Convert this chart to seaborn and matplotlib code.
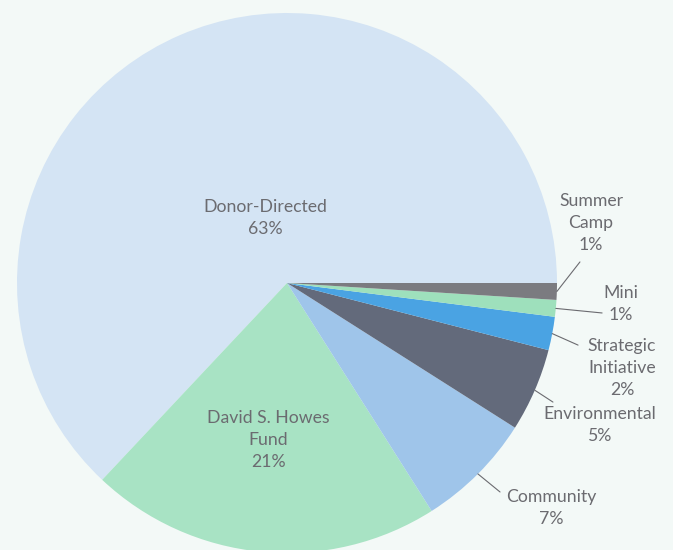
import numpy as np
import matplotlib
matplotlib.use("Agg")
import matplotlib.pyplot as plt
import seaborn as sns

# Data
categories = ["Donor-Directed", "David S. Howes\nFund", "Community", "Environmental",
              "Strategic\nInitiative", "Mini", "Summer\nCamp"]
shares = [63, 21, 7, 5, 2, 1, 1]
colors = ["#d4e4f4", "#a8e3c4", "#9fc5ea", "#636a7b", "#4aa3e3", "#9ee0bc", "#7b7b80"]

# Label layout (data units, pie radius = 1)
# inside labels: (radius along mid-angle, x shift, y shift)
inside_pos = {"Donor-Directed": (0.25, 0.02, 0.01),
              "David S. Howes\nFund": (0.585, -0.015, 0.0)}
outside_text = {
    "Community": (0.978, -0.833),
    "Environmental": (1.159, -0.526),
    "Strategic\nInitiative": (1.241, -0.315),
    "Mini": (1.237, -0.078),
    "Summer\nCamp": (1.126, 0.222),
}
outside_line_end = {
    "Community": (0.789, -0.774),
    "Environmental": (0.985, -0.441),
    "Strategic\nInitiative": (1.078, -0.230),
    "Mini": (1.167, -0.111),
    "Summer\nCamp": (1.085, 0.078),
}

sns.set_theme(style="white")
plt.rcParams["font.family"] = ["Lato", "DejaVu Sans"]

bg = "#f3f9f7"
text_color = "#6b6b70"

fig = plt.figure(figsize=(6.73, 5.5), dpi=100, facecolor=bg)
ax = fig.add_axes([0, 0, 1, 1])
ax.set_facecolor(bg)

wedges, _ = ax.pie(shares, colors=colors, startangle=0, counterclock=True,
                   radius=1.0, wedgeprops=dict(linewidth=0))

for w, name, val in zip(wedges, categories, shares):
    mid = np.deg2rad((w.theta1 + w.theta2) / 2)
    label = f"{name}\n{val}%"
    if name in inside_pos:
        r, dx, dy = inside_pos[name]
        ax.text(r * np.cos(mid) + dx, r * np.sin(mid) + dy, label,
                ha="center", va="center",
                fontsize=12.7, color=text_color, linespacing=1.45)
    else:
        x0, y0 = np.cos(mid), np.sin(mid)
        x1, y1 = outside_line_end[name]
        ax.plot([x0, x1], [y0, y1], color="#6b6b70", linewidth=0.8)
        tx, ty = outside_text[name]
        ax.text(tx, ty, label, ha="center", va="center",
                fontsize=12.7, color=text_color, linespacing=1.45)

ax.set_xlim(-287 / 270, (673 - 287) / 270)
ax.set_ylim(-(550 - 283) / 270, 283 / 270)
ax.set_aspect("auto")
ax.axis("off")

plt.savefig("out.png", dpi=100, facecolor=bg)
